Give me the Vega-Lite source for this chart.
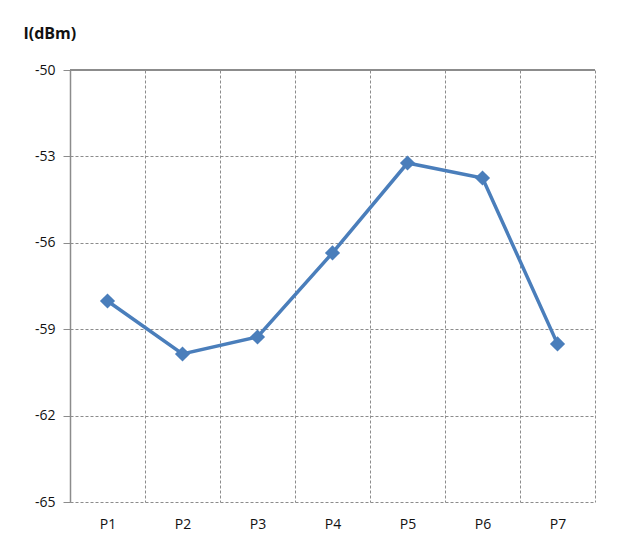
{
  "$schema": "https://vega.github.io/schema/vega-lite/v6.json",
  "width": 525,
  "height": 432,
  "autosize": {"type": "none"},
  "padding": {"left": 70, "top": 70, "right": 23, "bottom": 38},
  "background": "white",
  "config": {
    "view": {"stroke": null},
    "font": "Open Sans",
    "axis": {"labelFont": "Open Sans", "titleFont": "Open Sans"}
  },
  "data": {
    "values": [
      {"point": "P1", "dbm": -58.02},
      {"point": "P2", "dbm": -59.86},
      {"point": "P3", "dbm": -59.27},
      {"point": "P4", "dbm": -56.35},
      {"point": "P5", "dbm": -53.23},
      {"point": "P6", "dbm": -53.75},
      {"point": "P7", "dbm": -59.51}
    ]
  },
  "encoding": {
    "x": {
      "field": "point",
      "type": "nominal",
      "sort": null,
      "scale": {"paddingInner": 0, "paddingOuter": 0},
      "axis": {
        "title": null,
        "labelAngle": 0,
        "labelFontSize": 14,
        "labelFontWeight": 500,
        "labelColor": "#111111",
        "labelPadding": 15,
        "domain": false,
        "ticks": false,
        "grid": true,
        "tickBand": "extent",
        "gridColor": "#8c8c8c",
        "gridDash": [3, 2],
        "gridWidth": 1
      }
    },
    "y": {
      "field": "dbm",
      "type": "quantitative",
      "scale": {"domain": [-65, -50], "nice": false, "zero": false},
      "axis": {
        "values": [-65, -62, -59, -56, -53, -50],
        "labelExpr": "'' + datum.value",
        "title": "I(dBm)",
        "titleAngle": 0,
        "titleAlign": "left",
        "titleBaseline": "alphabetic",
        "titleX": -47,
        "titleY": -32,
        "titleFontSize": 16,
        "titleFontWeight": "bold",
        "titleColor": "#111111",
        "labelFontSize": 14,
        "labelFontWeight": 500,
        "labelColor": "#111111",
        "labelPadding": 8,
        "tickSize": 7,
        "tickColor": "#8c8c8c",
        "domainColor": "#8c8c8c",
        "domainWidth": 1.5,
        "gridColor": "#8c8c8c",
        "gridDash": [3, 2],
        "gridWidth": 1
      }
    }
  },
  "layer": [
    {
      "mark": {"type": "rule", "color": "#8c8c8c", "strokeWidth": 1.5},
      "encoding": {"y": {"datum": -50}, "x": null}
    },
    {
      "mark": {"type": "line", "color": "#4a7ebb", "strokeWidth": 3.5}
    },
    {
      "mark": {"type": "point", "shape": "diamond", "filled": true, "color": "#4a7ebb", "size": 230, "opacity": 1}
    }
  ]
}
